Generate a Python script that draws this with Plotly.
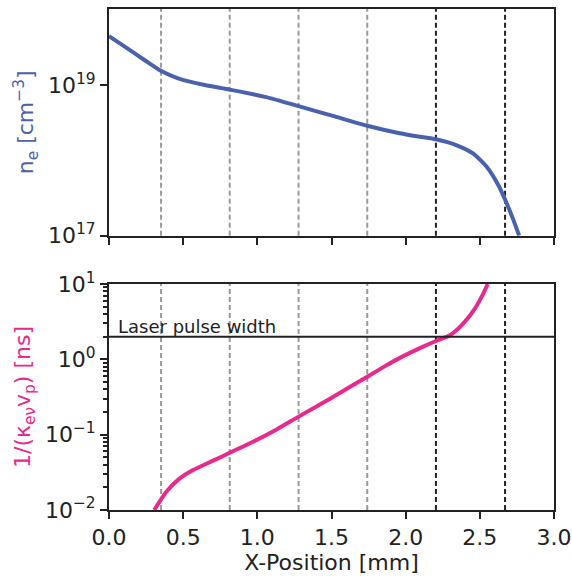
import math
import plotly.graph_objects as go
from plotly.subplots import make_subplots

# ---- data ----
x_ne = [0.0, 0.106, 0.241, 0.349, 0.466, 0.646, 0.814, 1.06, 1.278, 1.51, 1.741, 1.96, 2.096, 2.204,
        2.344, 2.456, 2.546, 2.625, 2.681, 2.726, 2.765]
log_ne = [19.65, 19.51, 19.33, 19.19, 19.09, 19.0, 18.94, 18.84, 18.72, 18.59, 18.46, 18.36, 18.313, 18.28,
          18.20, 18.09, 17.915, 17.67, 17.43, 17.21, 17.0]
ne = [10 ** v for v in log_ne]

x_tau = [0.305, 0.387, 0.477, 0.567, 0.702, 0.814, 0.972, 1.13, 1.278, 1.51, 1.741, 1.861, 1.961, 2.096, 2.204,
         2.299, 2.389, 2.468, 2.524, 2.553]
log_tau = [-2.0, -1.757, -1.58, -1.47, -1.345, -1.24, -1.093, -0.93, -0.76, -0.50, -0.23, -0.09, 0.02, 0.15, 0.244,
           0.32, 0.478, 0.677, 0.876, 1.0]
tau = [10 ** v for v in log_tau]

grey_lines = [0.351, 0.814, 1.278, 1.741]
black_lines = [2.204, 2.67]
pulse_width = 2.0
pulse_label = "Laser pulse width"

x_ticks = [0.0, 0.5, 1.0, 1.5, 2.0, 2.5, 3.0]
x_ticklabels = ["0.0", "0.5", "1.0", "1.5", "2.0", "2.5", "3.0"]
top_yticks = [1e17, 1e19]
top_yticklabels = ["10<sup>17</sup>", "10<sup>19</sup>"]
bot_yticks = [1e-2, 1e-1, 1e0, 1e1]
bot_yticklabels = ["10<sup>−2</sup>", "10<sup>−1</sup>", "10<sup>0</sup>", "10<sup>1</sup>"]
bot_minor = [m * 10 ** e for e in (-2, -1, 0) for m in range(2, 10)]

BLUE = "#4a62ae"
MAGENTA = "#e8298d"
INK = "#222222"
FONT = "DejaVu Sans"
FS = 22

fig = make_subplots(rows=2, cols=1, shared_xaxes=False, vertical_spacing=0.0)

fig.add_trace(go.Scatter(x=x_ne, y=ne, mode="lines", line=dict(color=BLUE, width=4, shape="spline", smoothing=0.6),
                         showlegend=False, hoverinfo="skip"), row=1, col=1)
fig.add_trace(go.Scatter(x=x_tau, y=tau, mode="lines", line=dict(color=MAGENTA, width=4, shape="spline", smoothing=0.6),
                         showlegend=False, hoverinfo="skip"), row=2, col=1)

shapes = []
for xs, col in ((grey_lines, "#9a9a9a"), (black_lines, INK)):
    for xv in xs:
        for yref in ("y domain", "y2 domain"):
            xr = "x" if yref == "y domain" else "x2"
            shapes.append(dict(type="line", xref=xr, yref=yref, x0=xv, x1=xv, y0=0, y1=1,
                               line=dict(color=col, width=2, dash="5px,3px"), layer="below"))
shapes.append(dict(type="line", xref="x2 domain", yref="y2", x0=0, x1=1, y0=pulse_width, y1=pulse_width,
                   line=dict(color=INK, width=2)))
fig.update_layout(shapes=shapes)

fig.add_annotation(x=0.05, y=math.log10(pulse_width), xref="x2", yref="y2", text=pulse_label, showarrow=False,
                   xanchor="left", yanchor="bottom", yshift=-2, font=dict(family=FONT, size=18, color=INK))

axis_common = dict(showline=True, mirror=True, linewidth=2, linecolor=INK, ticks="outside", ticklen=7,
                   tickwidth=2, tickcolor=INK, showgrid=False, zeroline=False,
                   tickfont=dict(family=FONT, size=FS, color=INK))

fig.update_xaxes(range=[0, 3], tickmode="array", tickvals=x_ticks, ticktext=x_ticklabels, **axis_common)
fig.update_xaxes(showticklabels=False, row=1, col=1)
fig.update_xaxes(title=dict(text="X-Position [mm]", font=dict(family=FONT, size=FS, color=INK), standoff=4), row=2, col=1)

fig.update_yaxes(type="log", range=[17, 20.01], tickmode="array", tickvals=top_yticks, ticktext=top_yticklabels,
                 title=dict(text="n<sub>e</sub> [cm<sup>−3</sup>]", font=dict(family=FONT, size=FS, color=BLUE), standoff=8),
                 row=1, col=1, **axis_common)
fig.update_yaxes(type="log", range=[-2, 1], tickmode="array", tickvals=bot_yticks, ticktext=bot_yticklabels,
                 minor=dict(tickmode="array", tickvals=bot_minor, ticks="outside", ticklen=4, tickwidth=1.5, tickcolor=INK),
                 title=dict(text="1/(κ<sub>eν</sub>v<sub>p</sub>) [ns]", font=dict(family=FONT, size=FS, color=MAGENTA), standoff=8),
                 row=2, col=1, **axis_common)

fig.update_layout(
    width=572, height=582,
    margin=dict(l=109, r=18, t=9, b=72, autoexpand=False),
    paper_bgcolor="white", plot_bgcolor="white",
    font=dict(family=FONT, color=INK),
    yaxis=dict(domain=[0.5475, 1.0]),
    yaxis2=dict(domain=[0.0, 0.451]),
)

fig.write_html("out.html")
